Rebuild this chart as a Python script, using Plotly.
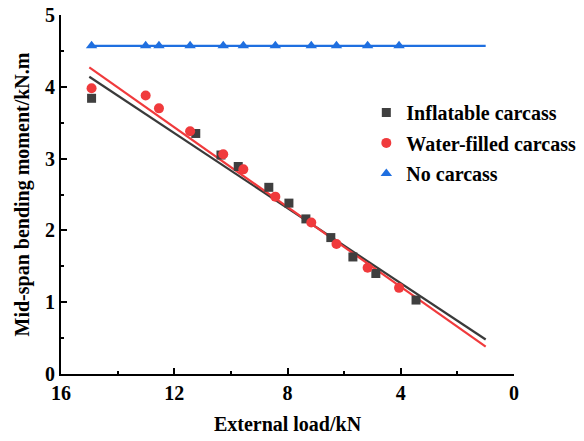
import plotly.graph_objects as go

# Data
x_inflatable = [14.92, 11.24, 10.35, 9.74, 8.66, 7.95, 7.35, 6.47, 5.69, 4.88, 3.46]
y_inflatable = [3.84, 3.35, 3.05, 2.89, 2.60, 2.38, 2.16, 1.90, 1.63, 1.40, 1.03]

x_water = [14.92, 13.01, 12.54, 11.44, 10.27, 9.56, 8.43, 7.16, 6.27, 5.17, 4.06]
y_water = [3.98, 3.88, 3.70, 3.38, 3.06, 2.85, 2.47, 2.11, 1.81, 1.48, 1.20]

x_none = [14.92, 13.01, 12.54, 11.44, 10.27, 9.56, 8.43, 7.16, 6.27, 5.17, 4.06]
y_none = [4.57, 4.57, 4.57, 4.57, 4.57, 4.57, 4.57, 4.57, 4.57, 4.57, 4.57]

fit_x = [15, 1]
fit_inflatable = [4.14, 0.48]
fit_water = [4.27, 0.38]
fit_none = [4.57, 4.57]

x_ticks = [16, 12, 8, 4, 0]
y_ticks = [0, 1, 2, 3, 4, 5]

c_gray = "#3f3f3f"
c_red = "#f03a3c"
c_blue = "#1f6fe0"
FONT = "Liberation Serif"
FS = 20

fig = go.Figure()
fig.add_trace(go.Scatter(x=fit_x, y=fit_inflatable, mode="lines",
                         line=dict(color="#3a3a3a", width=2.2), showlegend=False, hoverinfo="skip"))
fig.add_trace(go.Scatter(x=fit_x, y=fit_water, mode="lines",
                         line=dict(color=c_red, width=2.2), showlegend=False, hoverinfo="skip"))
fig.add_trace(go.Scatter(x=fit_x, y=fit_none, mode="lines",
                         line=dict(color=c_blue, width=2.2), showlegend=False, hoverinfo="skip"))

fig.add_trace(go.Scatter(x=x_inflatable, y=y_inflatable, mode="markers", name="Inflatable carcass",
                         legendgroup="a",
                         marker=dict(symbol="square", size=9, color=c_gray)))
fig.add_trace(go.Scatter(x=x_water, y=y_water, mode="markers", name="Water-filled carcass",
                         legendgroup="b",
                         marker=dict(symbol="circle", size=10, color=c_red)))
fig.add_trace(go.Scatter(x=x_none, y=y_none, mode="markers", name="No carcass",
                         legendgroup="c",
                         marker=dict(symbol="triangle-up", size=10, color=c_blue)))

axis_common = dict(
    showgrid=False, zeroline=False, showline=True, linecolor="black", linewidth=2,
    ticks="inside", ticklen=6, tickwidth=2, tickcolor="black",
    tickfont=dict(family=FONT, size=FS, color="black", weight="bold"),
    mirror=False, automargin=False, ticklabeloverflow="allow",
)

fig.update_layout(
    width=584, height=441,
    margin=dict(l=61, r=70, t=15, b=67, autoexpand=False),
    paper_bgcolor="white", plot_bgcolor="white",
    font=dict(family=FONT, color="black"),
    xaxis=dict(range=[16, 0], tickvals=x_ticks, ticktext=[str(v) for v in x_ticks],
               minor=dict(dtick=2, ticks="inside", ticklen=3, tickwidth=2, tickcolor="black", tick0=0),
               title=dict(text="External load/kN", font=dict(family=FONT, size=FS, weight="bold"), standoff=14),
               **axis_common),
    yaxis=dict(range=[0, 5], tickvals=y_ticks, ticktext=[str(v) for v in y_ticks],
               minor=dict(dtick=0.5, ticks="inside", ticklen=3, tickwidth=2, tickcolor="black", tick0=0),
               title=dict(text="Mid-span bending moment/kN.m", font=dict(family=FONT, size=FS, weight="bold"), standoff=10),
               **axis_common),
    legend=dict(x=0.674, y=0.783, xanchor="left", yanchor="top",
                font=dict(family=FONT, size=FS, color="black", weight="bold"),
                bgcolor="rgba(0,0,0,0)", tracegroupgap=1.5, itemwidth=30),
)

fig.write_html(
    "out.html",
    config={"displayModeBar": False},
    post_script="document.body.style.margin='0';document.body.style.overflow='hidden';",
)
